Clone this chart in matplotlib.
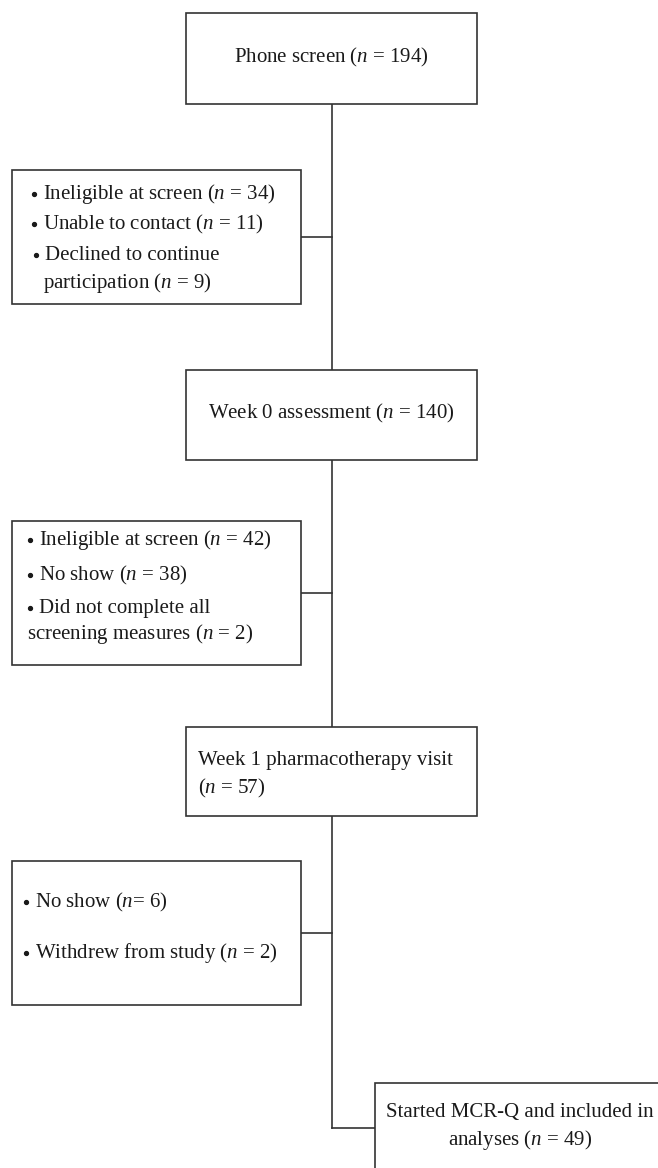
import matplotlib
matplotlib.use("Agg")
import matplotlib.pyplot as plt
from matplotlib.patches import Rectangle

# --- Chart content ---
MAIN_LABELS = ["Phone screen", "Week 0 assessment",
               "Week 1 pharmacotherapy visit", "Started MCR-Q and included in analyses"]
MAIN_N = [194, 140, 57, 49]

EXCL_LABELS = [
    ["Ineligible at screen", "Unable to contact", "Declined to continue participation"],
    ["Ineligible at screen", "No show", "Did not complete all screening measures"],
    ["No show", "Withdrew from study"],
]
EXCL_N = [[34, 11, 9], [42, 38, 2], [6, 2]]

# --- Layout (pixel units, figure is 658 x 1168) ---
W, H = 658, 1168
LINE_X = 331.5
MAIN_BOXES = [(186, 13, 477, 104), (186, 370, 477, 460),
              (186, 727, 477, 816), (375, 1083, 700, 1200)]
SIDE_BOXES = [(12, 170, 301, 304), (12, 521, 301, 665), (12, 861, 301, 1005)]
SIDE_CONN_Y = [237, 593, 933]
FINAL_CONN_Y = 1128

LC = "#333333"
TC = "#1a1a1a"
LW = 1.2
FS = 15

plt.rcParams['font.family'] = ['Liberation Serif', 'DejaVu Serif']
plt.rcParams['mathtext.fontset'] = 'custom'
plt.rcParams['mathtext.rm'] = 'Liberation Serif'
plt.rcParams['mathtext.it'] = 'Liberation Serif:italic'


def nlab(n, tight=False):
    eq = "=" if tight else " ="
    return r"($\mathit{n}$" + eq + f" {n})"


fig = plt.figure(figsize=(W / 100, H / 100), dpi=100)
ax = fig.add_axes([0, 0, 1, 1])
ax.set_xlim(0, W)
ax.set_ylim(H, 0)
ax.axis('off')


def box(b):
    x0, y0, x1, y1 = b
    ax.add_patch(Rectangle((x0, y0), x1 - x0, y1 - y0, facecolor='white',
                           edgecolor=LC, lw=LW, zorder=3))


for b in MAIN_BOXES + SIDE_BOXES:
    box(b)

# connectors (boxes are drawn on top, so the trunk line is hidden inside them)
ax.plot([LINE_X, LINE_X], [MAIN_BOXES[0][3], FINAL_CONN_Y], color=LC, lw=LW, zorder=1)
for b, cy in zip(SIDE_BOXES, SIDE_CONN_Y):
    ax.plot([b[2], LINE_X], [cy, cy], color=LC, lw=LW, zorder=1)
ax.plot([LINE_X, MAIN_BOXES[3][0]], [FINAL_CONN_Y, FINAL_CONN_Y], color=LC, lw=LW, zorder=1)


def txt(x, y, s, ha='left', fs=FS):
    ax.text(x, y, s, ha=ha, va='center', fontsize=fs, color=TC, zorder=5)


# main box texts
txt(LINE_X, 57, f"{MAIN_LABELS[0]} " + nlab(MAIN_N[0]), ha='center')
txt(LINE_X, 413, f"{MAIN_LABELS[1]} " + nlab(MAIN_N[1]), ha='center')
txt(198, 760, MAIN_LABELS[2])
txt(198, 788, nlab(MAIN_N[2]))
w4 = MAIN_LABELS[3].split(" ")
txt(520, 1113, " ".join(w4[:-1]), ha='center')
txt(520, 1140, f"{w4[-1]} " + nlab(MAIN_N[3]), ha='center')


def bullet(x, y, s):
    ax.plot(x - 4, y - 0.5, 'o', ms=2.8, color=TC, zorder=5)
    txt(x + 5, y, s)


# side box 1
lab, ns = EXCL_LABELS[0], EXCL_N[0]
bullet(38, 194, f"{lab[0]} " + nlab(ns[0]))
bullet(38, 224, f"{lab[1]} " + nlab(ns[1]))
bullet(40, 255, "Declined to continue")
txt(43, 283, "participation " + nlab(ns[2]))

# side box 2
lab, ns = EXCL_LABELS[1], EXCL_N[1]
bullet(34, 540, f"{lab[0]} " + nlab(ns[0]))
bullet(34, 575, f"{lab[1]} " + nlab(ns[1]))
bullet(34, 608, "Did not complete all")
txt(27, 634, "screening measures " + nlab(ns[2]))

# side box 3
lab, ns = EXCL_LABELS[2], EXCL_N[2]
bullet(30, 902, f"{lab[0]} " + nlab(ns[0], tight=True))
bullet(30, 953, f"{lab[1]} " + nlab(ns[1]))

fig.savefig("out.png", dpi=100)
